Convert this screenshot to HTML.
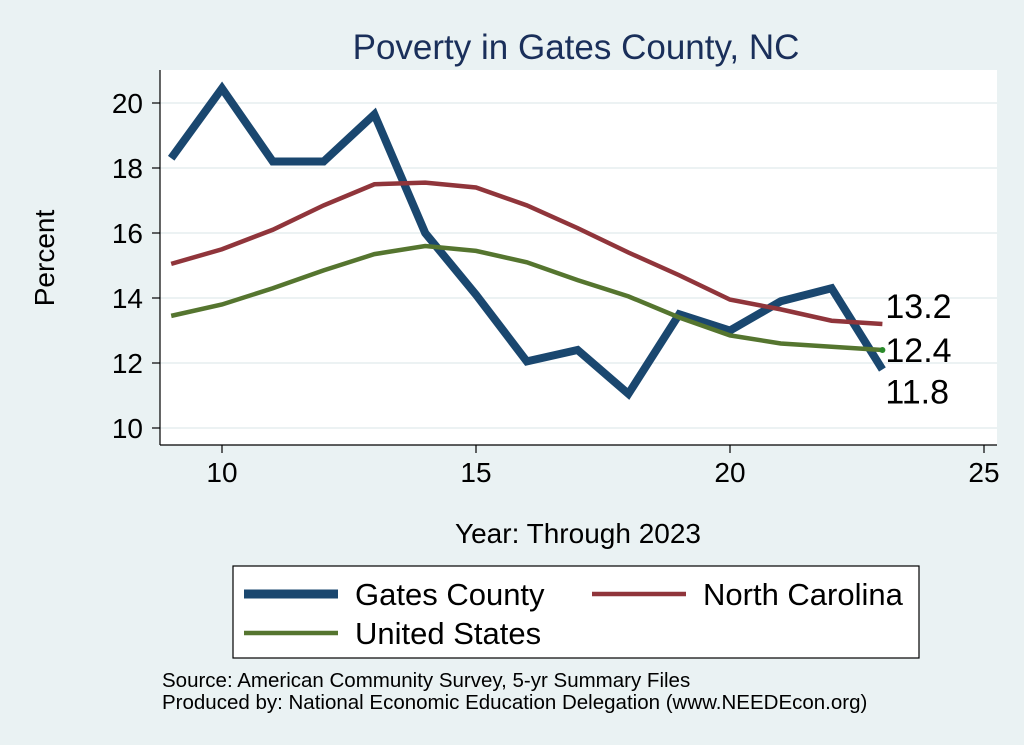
<!DOCTYPE html>
<html><head><meta charset="utf-8"><style>
body{margin:0;background:#eaf2f3;}
svg{display:block;font-family:"Liberation Sans",sans-serif;}
</style></head><body>
<svg id="c" width="1024" height="745">
<rect x="0" y="0" width="1024" height="745" fill="#eaf2f3"/>
<rect x="160" y="70" width="837" height="375" fill="#ffffff"/>
<text x="576" y="59" font-size="35" fill="#1a2f5a" text-anchor="middle">Poverty in Gates County, NC</text>
<g id="grid"></g>
<g id="axes"></g>
<g id="series"></g>
<text x="54" y="258" font-size="28" text-anchor="middle" transform="rotate(-90 54 258)">Percent</text>
<text x="578" y="543" font-size="28" text-anchor="middle">Year: Through 2023</text>
<g>
<rect x="233" y="566" width="686" height="92" fill="#ffffff" stroke="#000" stroke-width="1.2"/>
<g><line x1="244" y1="594" x2="338" y2="594" stroke="#1a476f" stroke-width="9"/><text x="355" y="605" font-size="31">Gates County</text></g>
<g><line x1="592" y1="594" x2="686" y2="594" stroke="#90353b" stroke-width="4.5"/><text x="703" y="605" font-size="31">North Carolina</text></g>
<g><line x1="244" y1="633" x2="338" y2="633" stroke="#55752f" stroke-width="4.5"/><text x="355" y="644" font-size="31">United States</text></g>
</g>
<text x="162" y="687" font-size="20.5">Source: American Community Survey, 5-yr Summary Files</text>
<text x="162" y="709" font-size="20.5">Produced by: National Economic Education Delegation (www.NEEDEcon.org)</text>
</svg>
<script>
const years=[9,10,11,12,13,14,15,16,17,18,19,20,21,22,23];
const gates=[18.3,20.45,18.2,18.2,19.65,16.0,14.1,12.05,12.4,11.05,13.5,13.0,13.9,14.3,11.8];
const nc=[15.05,15.5,16.1,16.85,17.5,17.55,17.4,16.85,16.15,15.4,14.7,13.95,13.65,13.3,13.2];
const us=[13.45,13.8,14.3,14.85,15.35,15.6,15.45,15.1,14.55,14.05,13.4,12.85,12.6,12.5,12.4];
const xTicks=[10,15,20,25];
const yTicks=[10,12,14,16,18,20];
const X=v=>222+(v-10)*50.8;
const Y=v=>428-(v-10)*32.5;
const NS="http://www.w3.org/2000/svg";
function mk(t,a,p){const e=document.createElementNS(NS,t);for(const k in a)e.setAttribute(k,a[k]);p.appendChild(e);return e;}
const grid=document.getElementById('grid'),axes=document.getElementById('axes'),ser=document.getElementById('series');
yTicks.forEach(v=>{
 const g=mk('line',{x1:160,x2:997,y1:Y(v),y2:Y(v),stroke:'#e6eeef','stroke-width':1.5},grid);
 
 
 mk('line',{x1:152,x2:160,y1:Y(v),y2:Y(v),stroke:'#000','stroke-width':1.2},axes);
 const t=mk('text',{x:143,y:Y(v)+10,'font-size':28,'text-anchor':'end'},axes);t.textContent=v;
 
 
});
mk('line',{x1:160,x2:160,y1:70,y2:445,stroke:'#000','stroke-width':1.2},axes);
mk('line',{x1:160,x2:997,y1:445,y2:445,stroke:'#000','stroke-width':1.2},axes);
xTicks.forEach(v=>{
 mk('line',{x1:X(v),x2:X(v),y1:445,y2:453,stroke:'#000','stroke-width':1.2},axes);
 const t=mk('text',{x:X(v),y:482,'font-size':28,'text-anchor':'middle'},axes);t.textContent=v;
 
 
});
function line(d,c,w,n){
 const p=mk('polyline',{points:d.map((v,i)=>X(years[i])+','+Y(v)).join(' '),fill:'none',stroke:c,'stroke-width':w,'stroke-linejoin':'miter'},ser);
 
 
}
line(gates,'#1a476f',8,'line-gates-county');
line(nc,'#90353b',4.5,'line-north-carolina');
line(us,'#55752f',4.5,'line-united-states');
const last=years.length-1;
[[nc[last],-8,'label-nc-last'],[us[last],10,'label-us-last'],[gates[last],32,'label-gates-last']].forEach(([v,dy,n])=>{
 const t=mk('text',{x:X(years[last])+3,y:Y(v)+dy+2,'font-size':34},ser);t.textContent=v.toFixed(1);
 
 
});
mk('circle',{cx:X(years[last]),cy:Y(us[last]),r:3,fill:'#2a8a2a'},ser);
</script>
</body></html>
